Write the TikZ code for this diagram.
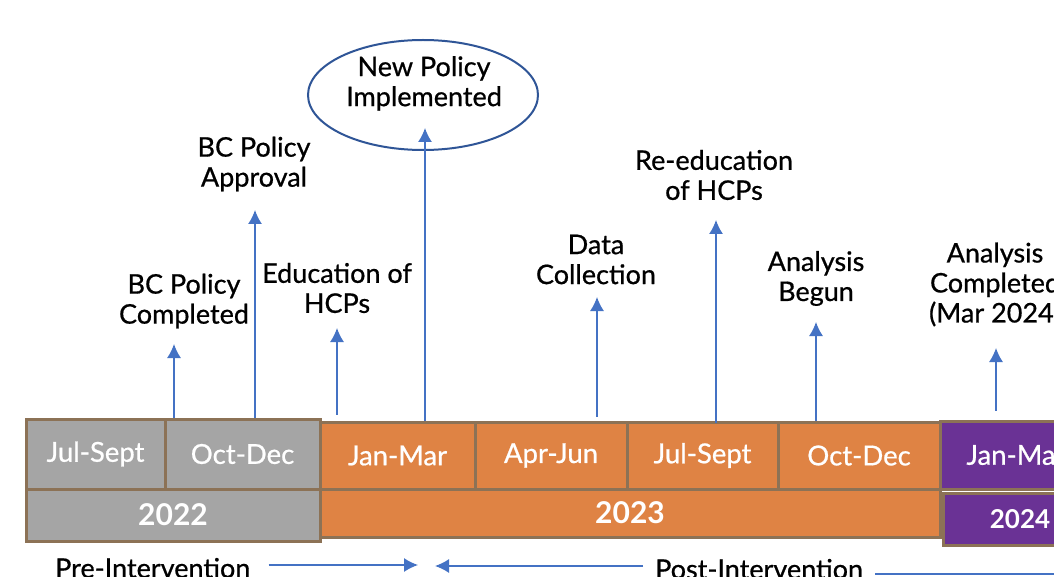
\documentclass[tikz,border=0pt]{standalone}
\usepackage{fontspec}
\setmainfont{Lato}
\newfontfamily\medfont[FakeBold=0.7]{Lato}
\usetikzlibrary{shapes.geometric,arrows.meta}
\definecolor{cgray}{HTML}{A5A5A5}
\definecolor{corange}{HTML}{DF8344}
\definecolor{cpurple}{HTML}{6A3295}
\definecolor{cborder}{HTML}{8C7256}
\definecolor{cblue}{HTML}{4472C4}
\definecolor{cdark}{HTML}{2F5597}
\tikzset{
  cell/.style={draw=cborder, line width=3pt, text=white, inner sep=0pt,
    font=\medfont\fontsize{27.5}{30}\selectfont},
  yearcell/.style={cell, font=\fontsize{30}{34}\selectfont\bfseries},
  lbl/.style={align=center, inner sep=0pt, text=black,
    font=\medfont\fontsize{27}{30}\selectfont},
  arr/.style={draw=cblue, line width=1.4pt, -{Latex[length=14pt,width=14pt]}},
  plainline/.style={draw=cblue, line width=1.4pt},
}
\begin{document}
\begin{tikzpicture}[x=1pt,y=-1pt]
\useasboundingbox (0,0) rectangle (1054,577);
\clip (0,0) rectangle (1054,577);
\fill[white] (0,0) rectangle (1054,577);

% gray 2022
\node[cell, fill=cgray, minimum width=139, minimum height=70] (q1) at (95.5,454) {Jul-Sept};
\node[cell, fill=cgray, minimum width=155, minimum height=70] (q2) at (242.5,454) {Oct-Dec};
\node[yearcell, fill=cgray, minimum width=294, minimum height=52] (y22) at (173,515) {2022};
% orange 2023
\node[cell, fill=corange, minimum width=155, minimum height=67] (q3) at (397.5,455.5) {Jan-Mar};
\node[cell, fill=corange, minimum width=152, minimum height=67] (q4) at (551,455.5) {Apr-Jun};
\node[cell, fill=corange, minimum width=151, minimum height=67] (q5) at (702.5,455.5) {Jul-Sept};
\node[cell, fill=corange, minimum width=162, minimum height=67] (q6) at (859,455.5) {Oct-Dec};
\node[yearcell, fill=corange, minimum width=620, minimum height=48] (y23) at (630,513) {2023};
% purple 2024
\node[cell, fill=cpurple, minimum width=152, minimum height=68] (q7) at (1016,455) {Jan-Mar};
\node[yearcell, fill=cpurple, minimum width=154, minimum height=52, font=\fontsize{26}{30}\selectfont\bfseries] (y24) at (1020,519) {2024};

% ellipse
\node[ellipse, draw=cdark, line width=2pt, minimum width=230, minimum height=110] (ell) at (423,95) {};
\node[lbl] (l4) at (424,83.5) {New Policy\\Implemented};

% labels
\node[lbl] (l1) at (184,301) {BC Policy\\Completed};
\node[lbl] (l2) at (254,164) {BC Policy\\Approval};
\node[lbl] (l3) at (337,288) {Education of\\HCPs};
\node[lbl] (l5) at (596,259.5) {Data\\Collection};
\node[lbl] (l6) at (714,175) {Re-education\\of HCPs};
\node[lbl] (l7) at (816,278.5) {Analysis\\Begun};
\node[lbl] (l8) at (995,284.5) {Analysis\\Completed\\(Mar 2024)};

% arrow tips
\coordinate (t1) at (174,344);
\coordinate (t2) at (255,210);
\coordinate (t3) at (337,328);
\coordinate (t4) at (425,128);
\coordinate (t5) at (597,297);
\coordinate (t6) at (716,220);
\coordinate (t7) at (816,322);
\coordinate (t8) at (996,348);

\draw[arr] (q1.north -| t1) -- (t1);
\draw[arr] (q2.north -| t2) -- (t2);
\draw[arr] ([yshift=6pt]q3.north -| t3) -- (t3);
\draw[arr] (q3.north -| t4) -- (t4);
\draw[arr] ([yshift=4pt]q4.north -| t5) -- (t5);
\draw[arr] ([yshift=-2pt]q5.north -| t6) -- (t6);
\draw[arr] (q6.north -| t7) -- (t7);
\draw[arr] ([yshift=9pt]q7.north -| t8) -- (t8);

% intervention labels
\node[lbl, anchor=west] (pre) at (55,568) {Pre-Intervention};
\node[lbl, anchor=west] (post) at (655,569) {Post-Intervention};
\coordinate (pretip) at (418,565);
\coordinate (posttip) at (435,566);
\coordinate (postend) at (1060,574);
\draw[arr] ([xshift=18pt]pre.east |- pretip) -- (pretip);
\draw[arr] ([xshift=-12pt]post.west |- posttip) -- (posttip);
\draw[plainline] ([xshift=12pt]post.east |- postend) -- (postend);
\end{tikzpicture}
\end{document}
